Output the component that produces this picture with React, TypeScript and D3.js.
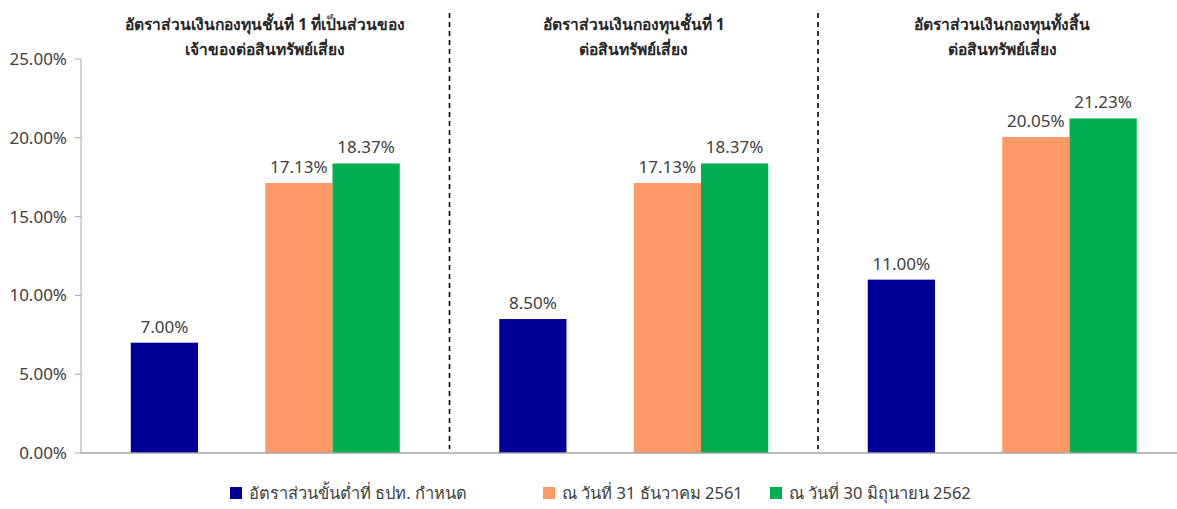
import React from "react";
import * as d3 from "d3";

// group titles (two lines each)
const groupTitles = [
  ["อัตราส่วนเงินกองทุนชั้นที่ 1 ที่เป็นส่วนของ", "เจ้าของต่อสินทรัพย์เสี่ยง"],
  ["อัตราส่วนเงินกองทุนชั้นที่ 1", "ต่อสินทรัพย์เสี่ยง"],
  ["อัตราส่วนเงินกองทุนทั้งสิ้น", "ต่อสินทรัพย์เสี่ยง"],
];
const seriesNames = [
  "อัตราส่วนขั้นต่ำที่ ธปท. กำหนด",
  "ณ วันที่ 31 ธันวาคม 2561",
  "ณ วันที่ 30 มิถุนายน 2562",
];
const minRequired = [7.0, 8.5, 11.0];
const dec2561 = [17.13, 17.13, 20.05];
const jun2562 = [18.37, 18.37, 21.23];
const yTicks = [0, 5, 10, 15, 20, 25];

const colors = ["#000099", "#FF9966", "#00B050"];
const font = "Tahoma, 'Noto Sans', 'DejaVu Sans', sans-serif";

const W = 1177;
const H = 509;
const left = 81;
const groupW = 368.5;

const App = () => {
  const x = d3
    .scaleBand<number>()
    .domain(d3.range(3))
    .range([left, left + groupW * 3]);
  // slots inside a group: blue, empty, orange, green
  const slot = d3
    .scaleBand<string>()
    .domain(["min", "gap", "dec", "jun"])
    .range([0, x.bandwidth()])
    .paddingInner(0)
    .paddingOuter(0.74);
  const y = d3.scaleLinear().domain([0, 25]).range([453, 59]);

  const series = [
    { key: "min", values: minRequired },
    { key: "dec", values: dec2561 },
    { key: "jun", values: jun2562 },
  ];

  const legendX = [230, 543, 770];

  return (
    <svg
      width={W}
      height={H}
      style={{ position: "absolute", left: 0, top: 0, background: "#fff" }}
      fontFamily={font}
    >
      {/* y axis */}
      <line x1={left} x2={left} y1={y(25)} y2={y(0)} stroke="#a6a6a6" />
      {yTicks.map((t) => (
        <g key={t}>
          <line x1={left - 6} x2={left} y1={y(t)} y2={y(t)} stroke="#a6a6a6" />
          <text
            x={left - 14}
            y={y(t)}
            dy="0.35em"
            textAnchor="end"
            fontSize={17}
            fill="#404040"
          >
            {t.toFixed(2)}%
          </text>
        </g>
      ))}
      {/* bars */}
      {series.map((s, si) =>
        s.values.map((v, gi) => {
          const bx = (x(gi) as number) + (slot(s.key) as number);
          return (
            <g key={s.key + gi}>
              <rect
                x={bx}
                y={y(v)}
                width={slot.bandwidth()}
                height={y(0) - y(v)}
                fill={colors[si]}
              />
              <text
                x={bx + slot.bandwidth() / 2}
                y={y(v) - 10}
                textAnchor="middle"
                fontSize={17}
                fill="#404040"
              >
                {v.toFixed(2)}%
              </text>
            </g>
          );
        })
      )}
      {/* x axis */}
      <line x1={left} x2={W} y1={y(0)} y2={y(0)} stroke="#a6a6a6" strokeWidth={1.5} />
      {/* separators */}
      {[1, 2].map((i) => (
        <line
          key={i}
          x1={(x(i) as number)}
          x2={(x(i) as number)}
          y1={13}
          y2={y(0) - 4}
          stroke="#000"
          strokeWidth={1.6}
          strokeDasharray="5 4"
        />
      ))}
      {/* group titles */}
      {groupTitles.map((lines, gi) => (
        <text
          key={gi}
          x={(x(gi) as number) + x.bandwidth() / 2}
          textAnchor="middle"
          fontSize={15.6}
          fontWeight="bold"
          fill="#262626"
        >
          {lines.map((l, li) => (
            <tspan key={li} x={(x(gi) as number) + x.bandwidth() / 2} y={30 + li * 25}>
              {l}
            </tspan>
          ))}
        </text>
      ))}
      {/* legend */}
      {seriesNames.map((n, i) => (
        <g key={n}>
          <rect x={legendX[i]} y={487} width={12} height={12} fill={colors[i]} />
          <text x={legendX[i] + 19} y={499} fontSize={16.5} fill="#404040">
            {n}
          </text>
        </g>
      ))}
    </svg>
  );
};

export default App;
